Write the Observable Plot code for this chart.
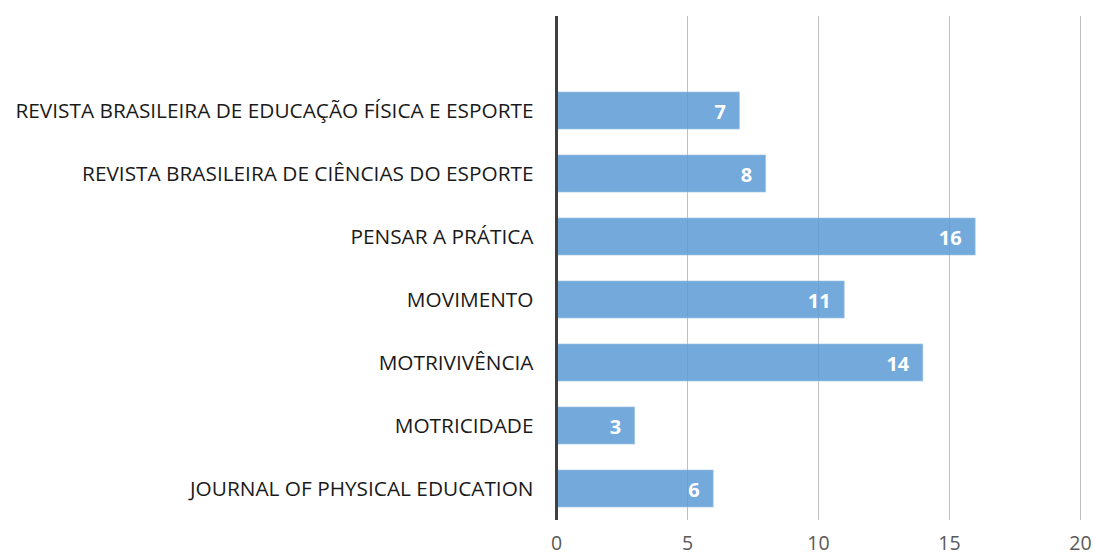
<!DOCTYPE html>
<html>
<head>
<meta charset="utf-8">
<script src="https://cdn.jsdelivr.net/npm/d3@7"></script>
<script src="https://cdn.jsdelivr.net/npm/@observablehq/plot@0.6"></script>
<style>
  html, body { margin: 0; padding: 0; background: #fff; }
</style>
</head>
<body>
<div id="chart"></div>
<script>
const journals = [
  "REVISTA BRASILEIRA DE EDUCAÇÃO FÍSICA E ESPORTE",
  "REVISTA BRASILEIRA DE CIÊNCIAS DO ESPORTE",
  "PENSAR A PRÁTICA",
  "MOVIMENTO",
  "MOTRIVIVÊNCIA",
  "MOTRICIDADE",
  "JOURNAL OF PHYSICAL EDUCATION"
];
const counts = [7, 8, 16, 11, 14, 3, 6];
const xTicks = [0, 5, 10, 15, 20];

const data = journals.map((j, i) => ({journal: j, count: counts[i]}));

const chart = Plot.plot({
  width: 1094,
  height: 557,
  marginLeft: 556,
  marginRight: 14,
  marginTop: 16,
  marginBottom: 37,
  style: {fontFamily: "'Open Sans', sans-serif", background: "#fff"},
  x: {domain: [0, 20], ticks: xTicks, label: null},
  y: {domain: journals, label: null, insetTop: 63, paddingInner: 0.41, paddingOuter: 0.205},
  marks: [
    Plot.ruleX(xTicks.filter(t => t > 0), {stroke: "#bfbfbf", strokeWidth: 1, strokeOpacity: 1}),
    Plot.barX(data, {x: "count", y: "journal", fill: "#5b9bd5", fillOpacity: 0.85, stroke: "#9dc3e6", strokeWidth: 1, strokeOpacity: 0.6}),
    Plot.text(data, {x: "count", y: "journal", text: d => String(d.count), textAnchor: "end", dx: -14, dy: 2, fill: "#fff", fontWeight: "bold", fontSize: 20}),
    Plot.axisX({ticks: xTicks, tickSize: 0, tickPadding: 16, fontSize: 19.5, color: "#595959", label: null}),
    Plot.axisY({tickSize: 0, tickPadding: 23, fontSize: 20.8, color: "#1a1a1a", label: null}),
    Plot.ruleX([0], {stroke: "#404040", strokeWidth: 3})
  ]
});
document.getElementById("chart").appendChild(chart);
</script>
</body>
</html>
